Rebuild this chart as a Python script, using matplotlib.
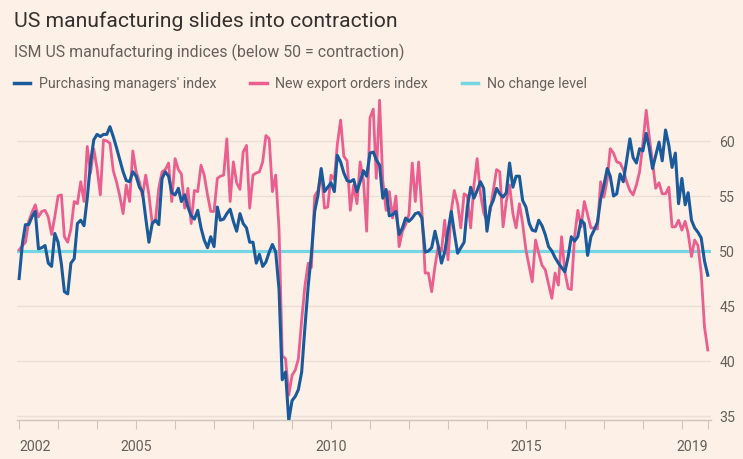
import pandas as pd
import matplotlib
matplotlib.use("Agg")
import matplotlib.pyplot as plt
import matplotlib.dates as mdates
from matplotlib.lines import Line2D

# ISM purchasing managers' index, monthly Jan 2002 - Sep 2019
pmi = [
    47.5, 50.7, 52.4, 52.4, 53.1, 53.6, 50.2, 50.3, 50.5, 48.9, 48.6, 51.6,
    50.8, 48.8, 46.3, 46.1, 48.9, 49.3, 52.5, 52.8, 52.3, 54.8, 58.0, 60.1,
    60.6, 60.4, 60.6, 60.6, 61.3, 60.4, 59.4, 58.3, 57.2, 56.4, 56.3, 57.2,
    56.8, 55.8, 55.4, 53.0, 50.8, 52.5, 52.8, 52.4, 56.6, 57.2, 56.8, 55.3,
    55.1, 55.7, 54.5, 55.1, 54.0, 53.2, 52.9, 53.7, 52.1, 51.0, 50.3, 51.3,
    50.4, 54.0, 52.8, 52.9, 53.4, 53.8, 52.7, 51.8, 53.4, 52.5, 52.1, 50.8,
    50.8, 48.9, 49.7, 48.6, 49.0, 49.9, 50.6, 49.9, 46.5, 38.3, 39.0, 34.6,
    36.4, 36.8, 37.4, 39.0, 43.0, 46.8, 49.7, 53.6, 55.1, 57.5, 55.4, 55.8,
    56.2, 55.4, 58.7, 58.1, 57.1, 56.4, 56.3, 56.5, 55.4, 56.3, 57.3, 56.8,
    58.9, 59.0, 58.3, 57.8, 54.8, 55.6, 53.2, 53.3, 53.6, 51.5, 52.1, 53.0,
    52.7, 53.0, 53.4, 53.5, 53.0, 49.9, 50.0, 50.3, 51.8, 50.5, 48.9, 49.9,
    51.8, 53.6, 51.7, 49.8, 50.3, 50.8, 54.0, 55.8, 54.8, 55.5, 56.3, 55.7,
    51.8, 54.0, 54.6, 55.7, 55.2, 54.9, 55.3, 58.0, 55.8, 56.8, 56.8, 54.6,
    54.0, 52.5, 51.9, 51.8, 52.8, 52.3, 51.5, 50.4, 50.0, 49.4, 48.9, 48.5,
    48.1, 49.5, 51.3, 50.9, 51.3, 52.8, 52.5, 49.6, 51.3, 51.9, 52.6, 54.7,
    56.0, 57.5, 56.8, 55.0, 55.2, 57.0, 56.3, 58.2, 60.2, 58.5, 58.0, 59.3,
    59.1, 60.7, 59.4, 57.5, 58.7, 59.9, 58.2, 61.0, 59.6, 57.6, 58.9, 54.3,
    56.6, 54.2, 55.3, 52.8, 52.1, 51.7, 51.2, 49.1, 47.8,
]

# ISM new export orders index, same months
export_orders = [
    50.1, 50.5, 50.8, 52.7, 53.5, 54.2, 53.1, 53.6, 53.7, 53.1, 51.5, 53.1,
    55.0, 55.1, 51.3, 50.8, 52.0, 54.5, 54.3, 56.3, 54.5, 59.5, 57.1, 59.3,
    57.5, 55.1, 60.1, 60.0, 59.8, 57.3, 56.3, 55.0, 53.4, 56.0, 54.5, 59.1,
    57.2, 56.3, 55.0, 56.9, 55.1, 52.5, 52.8, 55.7, 57.2, 57.4, 58.0, 54.5,
    58.4, 57.4, 57.0, 53.9, 55.7, 52.5, 55.5, 55.4, 57.8, 56.9, 55.1, 53.6,
    53.6, 56.6, 56.8, 56.9, 60.2, 54.5, 58.1, 56.2, 55.6, 59.0, 59.6, 53.9,
    56.9, 57.1, 57.2, 58.1, 60.5, 60.2, 55.4, 56.9, 52.0, 40.5, 40.2, 36.9,
    38.7, 39.2, 40.2, 43.7, 46.8, 48.9, 48.5, 55.0, 55.5, 57.3, 53.9, 54.0,
    56.9, 56.5, 59.7, 61.9, 58.6, 58.2, 53.7, 56.0, 54.3, 58.1, 56.4, 51.8,
    62.1, 62.9, 56.6, 63.7, 56.4, 53.7, 55.4, 53.0, 55.0, 50.4, 51.8, 52.4,
    53.3, 58.0, 54.5, 58.1, 53.7, 48.0, 48.0, 46.3, 48.6, 50.4, 50.0, 52.8,
    49.2, 53.7, 55.5, 54.3, 52.1, 55.2, 55.0, 52.1, 56.0, 58.4, 55.2, 53.5,
    52.7, 53.7, 55.5, 57.4, 57.2, 52.2, 54.5, 56.0, 53.4, 52.1, 54.3, 52.5,
    50.1, 48.6, 47.2, 51.0, 49.8, 48.7, 48.3, 47.0, 45.7, 48.0, 46.9, 51.3,
    48.1, 46.6, 46.5, 51.3, 53.7, 52.2, 54.5, 53.3, 52.1, 52.1, 52.0, 56.3,
    54.9, 56.5, 59.3, 58.9, 58.1, 58.0, 57.4, 56.3, 55.5, 55.1, 56.0, 57.2,
    59.8, 62.8, 60.4, 58.1, 55.7, 56.2, 55.2, 55.2, 55.8, 52.2, 52.2, 52.8,
    51.9, 52.7, 51.6, 49.5, 51.0, 50.5, 48.0, 43.1, 41.0,
]

no_change = 50
dates = pd.date_range("2002-01-01", periods=len(pmi), freq="MS")

ytick_vals = [35, 40, 45, 50, 55, 60]
xtick_years = ["2002", "2005", "2010", "2015"]
last_label = "2019"

bg = "#FDF0E6"
blue = "#1A5A9B"
pink = "#EB5F8F"
cyan = "#74D6E3"
grey_text = "#66605C"
grid_col = "#EADFD5"
axis_col = "#CFC6BD"

plt.rcParams["font.family"] = ["Roboto", "DejaVu Sans"]

fig = plt.figure(figsize=(7.43, 4.59), dpi=100, facecolor=bg)
ax = fig.add_axes([17 / 743, 39 / 459, 694 / 743, 323 / 459])
ax.set_facecolor(bg)

ax.axhline(no_change, color=cyan, lw=2.3, zorder=2)
ax.plot(dates, export_orders, color=pink, lw=2.0, zorder=3, solid_joinstyle="round")
ax.plot(dates, pmi, color=blue, lw=2.2, zorder=4, solid_joinstyle="round")

ax.set_xlim(mdates.date2num(dates[0]) - 20, mdates.date2num(dates[-1]) + 30)
ax.set_ylim(34.64, 64)

# year ticks plus one at the end of the data
years = pd.date_range("2002-01-01", "2019-01-01", freq="YS")
minor_pos = [mdates.date2num(d) for d in years] + [mdates.date2num(dates[-1])]
ax.set_xticks(minor_pos, minor=True)
major_pos = [mdates.date2num(pd.Timestamp(y + "-01-01")) for y in xtick_years]
major_pos.append(mdates.date2num(dates[-1]))
ax.set_xticks(major_pos)
ax.set_xticklabels(xtick_years + [last_label])
xl = ax.get_xticklabels()
xl[0].set_ha("left")
xl[-1].set_ha("right")
ax.tick_params(axis="x", which="both", length=6.5, width=0.8, color=axis_col,
               labelsize=10.2, labelcolor=grey_text, pad=8)

ax.yaxis.tick_right()
ax.set_yticks(ytick_vals)
ax.tick_params(axis="y", length=0, pad=6, labelsize=10.2, labelcolor=grey_text)
ax.grid(axis="y", color=grid_col, lw=1, zorder=0)
ax.set_axisbelow(True)

for s in ["top", "left", "right"]:
    ax.spines[s].set_visible(False)
ax.spines["bottom"].set_color(axis_col)
ax.spines["bottom"].set_linewidth(1)

fig.text(14 / 743, 1 - 27 / 459, "US manufacturing slides into contraction",
         fontsize=15.2, color="#33302E", va="baseline")
fig.text(14 / 743, 1 - 57 / 459, "ISM US manufacturing indices (below 50 = contraction)",
         fontsize=11.4, color=grey_text, va="baseline")

handles = [Line2D([], [], color=blue, lw=2.5),
           Line2D([], [], color=pink, lw=2.5),
           Line2D([], [], color=cyan, lw=2.5)]
names = ["Purchasing managers' index", "New export orders index", "No change level"]
fig.legend(handles, names, loc="center left", bbox_to_anchor=(14 / 743, 1 - 84 / 459),
           ncol=3, frameon=False, fontsize=10.2, labelcolor=grey_text,
           handlelength=1.15, handletextpad=0.6, columnspacing=2.4,
           borderaxespad=0, borderpad=0)

fig.savefig("out.png", dpi=100, facecolor=bg)
